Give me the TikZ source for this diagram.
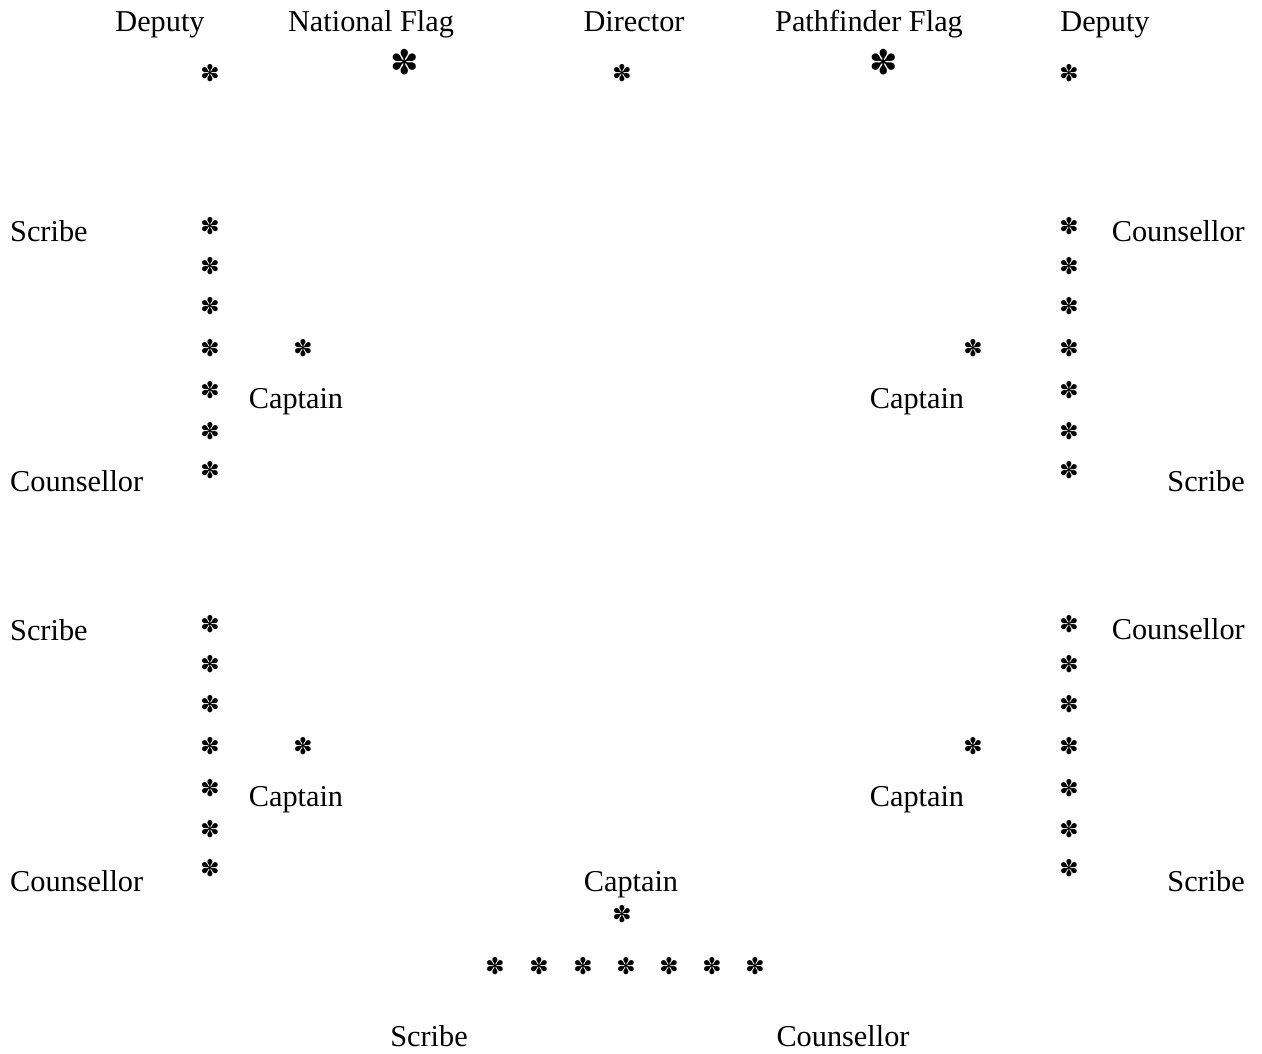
\documentclass[tikz,border=0pt]{standalone}
\usepackage{fontspec}
\setmainfont{Liberation Serif}
\newfontfamily\dvfont{DejaVu Sans}
\begin{document}
\begin{tikzpicture}[x=1pt,y=-1pt,
  lbl/.style={anchor=base,inner sep=0pt,font=\fontsize{30.3}{36}\selectfont},
  lblw/.style={lbl,anchor=base west},
  lble/.style={lbl,anchor=base east},
  ast/.style={inner sep=0pt,font=\dvfont\fontsize{23}{24}\selectfont},
  bigast/.style={inner sep=0pt,font=\dvfont\fontsize{34}{36}\selectfont}]
\useasboundingbox[fill=white] (0,0) rectangle (1262,1054);
% top row
\node[lbl] (depL) at (160,32) {Deputy};
\node[lbl] (natflag) at (371,32) {National Flag};
\node[lbl] (dir) at (634,32) {Director};
\node[lbl] (pathflag) at (869,32) {Pathfinder Flag};
\node[lbl] (depR) at (1105,32) {Deputy};
\node[ast] (aDepL) at (210,73) {✽};
\node[bigast] (aNat) at (405,62) {✽};
\node[ast] (aDir) at (622,73) {✽};
\node[bigast] (aPath) at (884,62) {✽};
\node[ast] (aDepR) at (1069,73) {✽};
% columns
\foreach \blk/\yo in {u/0,l/398}{
  \foreach \i/\yy in {1/226,2/266,3/306,4/348,5/390,6/431,7/470}{
    \node[ast] (L\blk\i) at (210,\yy+\yo) {✽};
    \node[ast] (R\blk\i) at (1069,\yy+\yo) {✽};
  }
  \node[ast] (capLa\blk) at (303,348+\yo) {✽};
  \node[ast] (capRa\blk) at (973,348+\yo) {✽};
  \node[lbl] (capL\blk) at (296,408+\yo) {Captain};
  \node[lbl] (capR\blk) at (917,408+\yo) {Captain};
}
\node[lblw] (scrLu) at (10,241) {Scribe};
\node[lblw] (couLu) at (10,491) {Counsellor};
\node[lble] (couRu) at (1245,241) {Counsellor};
\node[lble] (scrRu) at (1245,491) {Scribe};
\node[lblw] (scrLl) at (10,640) {Scribe};
\node[lblw] (couLl) at (10,891) {Counsellor};
\node[lble] (couRl) at (1245,639) {Counsellor};
\node[lble] (scrRl) at (1245,891) {Scribe};
% bottom
\node[lbl] (capB) at (631,891) {Captain};
\node[ast] (aCapB) at (622,914) {✽};
\foreach \i/\xx in {1/495,2/539,3/583,4/626,5/669,6/712,7/755}{
  \node[ast] (B\i) at (\xx,966) {✽};
}
\node[lbl] (scrB) at (429,1046) {Scribe};
\node[lbl] (couB) at (843,1046) {Counsellor};
\end{tikzpicture}
\end{document}
